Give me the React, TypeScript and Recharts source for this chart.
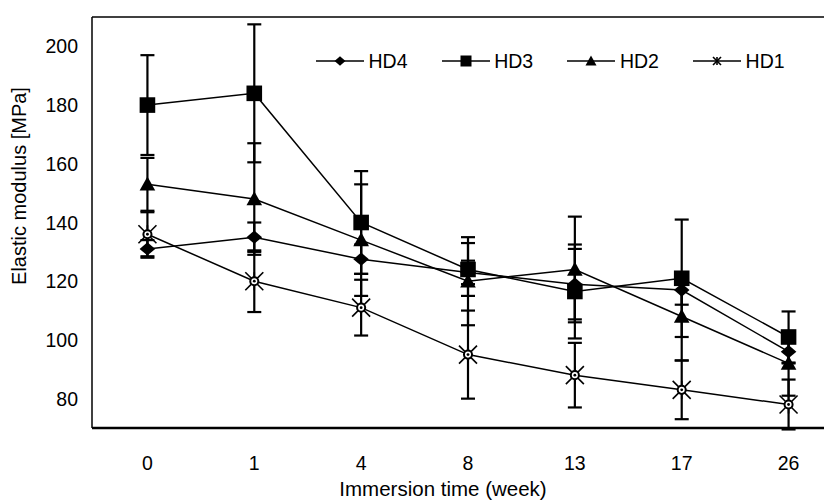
import React from "react";
import {
  LineChart,
  Line,
  XAxis,
  YAxis,
  ErrorBar,
  ReferenceLine,
} from "recharts";

const weeks = ["0", "1", "4", "8", "13", "17", "26"];
const hd4 = [131, 135, 127.5, 123, 119, 117, 96];
const hd3 = [180, 184, 140, 124, 116.5, 121, 101];
const hd2 = [153, 148, 134, 120, 124, 108, 92];
const hd1 = [136, 120, 111, 95, 88, 83, 78];
const hd4Err = [3, 5, 5, 4, 12, 5, 4];
const hd3Err = [17, 23.5, 17.5, 9, 16, 20, 8.7];
const hd2Err = [9, 19, 19, 15, 18, 15, 11];
const hd1Err = [7.5, 10.5, 9.5, 15, 11, 10, 8.5];
const yTicks = [80, 100, 120, 140, 160, 180, 200];

const data = weeks.map((w, i) => ({
  week: w,
  hd4: hd4[i],
  hd3: hd3[i],
  hd2: hd2[i],
  hd1: hd1[i],
  hd4Err: hd4Err[i],
  hd3Err: hd3Err[i],
  hd2Err: hd2Err[i],
  hd1Err: hd1Err[i],
}));

const FONT = '"Liberation Sans", Arial, sans-serif';

type Kind = "diamond" | "square" | "triangle" | "star";

// marker drawing, s = half size
function Marker({ kind, cx, cy, s }: { kind: Kind; cx: number; cy: number; s: number }) {
  if (kind === "diamond") {
    return <polygon points={`${cx},${cy - s * 0.85} ${cx + s},${cy} ${cx},${cy + s * 0.85} ${cx - s},${cy}`} fill="#000" />;
  }
  if (kind === "square") {
    return <rect x={cx - s} y={cy - s} width={s * 2} height={s * 2} fill="#000" />;
  }
  if (kind === "triangle") {
    return <polygon points={`${cx},${cy - s} ${cx + s},${cy + s * 0.8} ${cx - s},${cy + s * 0.8}`} fill="#000" />;
  }
  const r = s * 0.45;
  return (
    <g>
      <line x1={cx - s} y1={cy - s} x2={cx + s} y2={cy + s} stroke="#000" strokeWidth={1.6} />
      <line x1={cx - s} y1={cy + s} x2={cx + s} y2={cy - s} stroke="#000" strokeWidth={1.6} />
      <line x1={cx} y1={cy - s} x2={cx} y2={cy + s} stroke="#000" strokeWidth={1.6} />
      {s > 6 && <circle cx={cx} cy={cy} r={r} fill="#fff" stroke="#000" strokeWidth={2} />}
      {s > 6 && <circle cx={cx} cy={cy} r={1.4} fill="#000" />}
    </g>
  );
}

const dotFor = (kind: Kind) => (props: any) => (
  <Marker key={`${kind}-${props.index}`} kind={kind} cx={props.cx} cy={props.cy} s={kind === "star" ? 9 : 7.8} />
);

const legendItems: { name: string; kind: Kind }[] = [
  { name: "HD4", kind: "diamond" },
  { name: "HD3", kind: "square" },
  { name: "HD2", kind: "triangle" },
  { name: "HD1", kind: "star" },
];

const ChartLegend = () => (
  <div
    style={{
      position: "absolute",
      top: 43,
      left: 308,
      display: "flex",
      fontFamily: FONT,
      fontSize: 19.5,
      color: "#000",
    }}
  >
    {legendItems.map((it) => (
      <div key={it.name} style={{ width: 125.7, display: "flex", alignItems: "center" }}>
        <svg width={48} height={20} style={{ display: "block" }}>
          <line x1={0} y1={10} x2={48} y2={10} stroke="#000" strokeWidth={1.5} />
          <Marker kind={it.kind} cx={24} cy={10} s={it.kind === "star" ? 4 : 5.5} />
        </svg>
        <span style={{ marginLeft: 4.5, lineHeight: "20px" }}>{it.name}</span>
      </div>
    ))}
  </div>
);

const XTick = ({ x, y, payload }: any) => (
  <text x={x} y={y} dy={42} textAnchor="middle" fontFamily={FONT} fontSize={19.5} fill="#000">
    {payload.value}
  </text>
);

const YTick = ({ x, y, payload }: any) => (
  <text x={x - 14} y={y} dy={7} textAnchor="end" fontFamily={FONT} fontSize={19.5} fill="#000">
    {payload.value}
  </text>
);

export default function App() {
  return (
    <div style={{ position: "relative", width: 824, height: 495, overflow: "hidden", background: "#fff" }}>
      <LineChart
        width={834}
        height={495}
        data={data}
        margin={{ top: 9, right: 0, left: 24, bottom: 45 }}
      >
        <XAxis
          dataKey="week"
          scale="band"
          height={30}
          padding={{ left: 2, right: 0 }}
          tickLine={false}
          tickSize={0}
          tickMargin={0}
          axisLine={{ stroke: "#000", strokeWidth: 2.5 }}
          tick={<XTick />}
          label={{
            content: () => (
              <text x={435} y={488} textAnchor="middle" fontFamily={FONT} fontSize={20.5} fill="#000">
                Immersion time (week)
              </text>
            ),
          }}
        />
        <YAxis
          width={60}
          domain={[70, 210]}
          allowDataOverflow
          ticks={yTicks}
          tickLine={false}
          tickSize={0}
          tickMargin={0}
          axisLine={{ stroke: "#000", strokeWidth: 1.5 }}
          tick={<YTick />}
          label={{
            content: () => (
              <text
                x={18}
                y={178}
                transform="rotate(-90 18 178)"
                textAnchor="middle"
                fontFamily={FONT}
                fontSize={20}
                fill="#000"
              >
                Elastic modulus [MPa]
              </text>
            ),
          }}
        />
        <ReferenceLine y={210} stroke="#000" strokeWidth={1.5} />
        <Line type="linear" dataKey="hd1" name="HD1" stroke="#000" strokeWidth={1.5} dot={dotFor("star")} isAnimationActive={false}>
          <ErrorBar dataKey="hd1Err" direction="y" width={7} stroke="#000" strokeWidth={2.2} isAnimationActive={false} />
        </Line>
        <Line type="linear" dataKey="hd2" name="HD2" stroke="#000" strokeWidth={1.5} dot={dotFor("triangle")} isAnimationActive={false}>
          <ErrorBar dataKey="hd2Err" direction="y" width={7} stroke="#000" strokeWidth={2.2} isAnimationActive={false} />
        </Line>
        <Line type="linear" dataKey="hd3" name="HD3" stroke="#000" strokeWidth={1.5} dot={dotFor("square")} isAnimationActive={false}>
          <ErrorBar dataKey="hd3Err" direction="y" width={7} stroke="#000" strokeWidth={2.2} isAnimationActive={false} />
        </Line>
        <Line type="linear" dataKey="hd4" name="HD4" stroke="#000" strokeWidth={1.5} dot={dotFor("diamond")} isAnimationActive={false}>
          <ErrorBar dataKey="hd4Err" direction="y" width={7} stroke="#000" strokeWidth={2.2} isAnimationActive={false} />
        </Line>
      </LineChart>
      <ChartLegend />
    </div>
  );
}
